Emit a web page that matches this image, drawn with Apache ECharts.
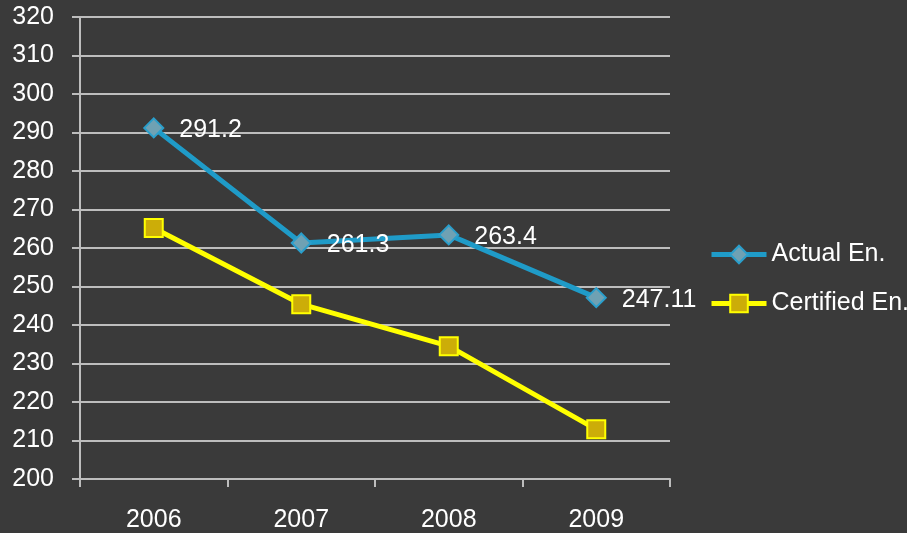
<!DOCTYPE html>
<html>
<head>
<meta charset="utf-8">
<script src="https://cdn.jsdelivr.net/npm/echarts@6/dist/echarts.min.js"></script>
<style>
    html, body { margin: 0; padding: 0; background: #3a3a3a; }
    #chart { width: 907px; height: 533px; }
</style>
</head>
<body>
<div id="chart"></div>
<script>
// 数据
const years = ['2006', '2007', '2008', '2009'];
const actualEn = [291.2, 261.3, 263.4, 247.11];
const certifiedEn = [265.2, 245.4, 234.5, 212.9];
const seriesNames = ['Actual En.', 'Certified En.'];

window.addEventListener('DOMContentLoaded', function() {
    const chart = echarts.init(document.getElementById('chart'));
    const gridColor = '#bdbdbd';
    const font = 'Liberation Sans, Arial, sans-serif';

    const option = {
        backgroundColor: '#3a3a3a',
        animation: false,
        grid: {
            left: 80,
            right: 237,
            top: 17,
            bottom: 53,
            containLabel: false
        },
        legend: {
            orient: 'vertical',
            left: 704,
            top: 237,
            itemWidth: 55,
            itemHeight: 22,
            itemGap: 24,
            data: seriesNames,
            lineStyle: { width: 5 },
            textStyle: {
                color: '#ffffff',
                fontSize: 25,
                fontFamily: font
            }
        },
        xAxis: {
            type: 'category',
            data: years,
            boundaryGap: true,
            axisLine: { lineStyle: { color: gridColor, width: 2 } },
            axisTick: { show: true, length: 8, lineStyle: { color: gridColor, width: 2 } },
            axisLabel: {
                color: '#ffffff',
                fontSize: 25,
                fontFamily: font,
                margin: 29
            },
            splitLine: { show: false }
        },
        yAxis: {
            type: 'value',
            min: 200,
            max: 320,
            interval: 10,
            axisLine: { show: true, lineStyle: { color: gridColor, width: 2 } },
            axisTick: { show: true, length: 8, lineStyle: { color: gridColor, width: 2 } },
            axisLabel: {
                color: '#ffffff',
                fontSize: 25,
                fontFamily: font,
                margin: 26
            },
            splitLine: { lineStyle: { color: gridColor, width: 2 } }
        },
        series: [
            {
                name: seriesNames[0],
                type: 'line',
                data: actualEn,
                symbol: 'diamond',
                symbolSize: 19,
                lineStyle: { color: '#1f9bc8', width: 5 },
                itemStyle: { color: '#6fa1b3', borderColor: '#2a9fcc', borderWidth: 2 },
                label: {
                    show: true,
                    position: 'right',
                    distance: 15,
                    color: '#ffffff',
                    fontSize: 25,
                    fontFamily: font,
                    offset: [0, 2]
                },
                z: 3
            },
            {
                name: seriesNames[1],
                type: 'line',
                data: certifiedEn,
                symbol: 'rect',
                symbolSize: 18,
                lineStyle: { color: '#ffff00', width: 5 },
                itemStyle: { color: '#ccad08', borderColor: '#ffff00', borderWidth: 2 },
                z: 2
            }
        ]
    };
    chart.setOption(option);
});
</script>
</body>
</html>
